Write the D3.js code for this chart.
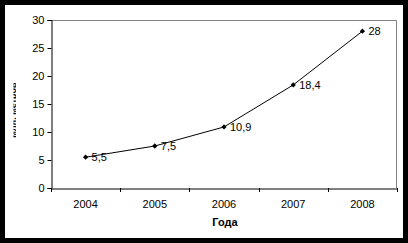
<!DOCTYPE html>
<html><head><meta charset="utf-8">
<script src="https://cdn.jsdelivr.net/npm/d3@7"></script>
<style>html,body{margin:0;padding:0;background:#000;}svg{display:block;}</style>
</head><body>
<script>
const years = ["2004","2005","2006","2007","2008"];
const values = [5.5, 7.5, 10.9, 18.4, 28];
const valueLabels = ["5,5","7,5","10,9","18,4","28"];
const yTicks = [0,5,10,15,20,25,30];
const xTitle = "Года";
const yTitle = "млн. метров";

const W = 408, H = 243;
const svg = d3.select("body").append("svg").attr("width", W).attr("height", H);
svg.append("rect").attr("width", W).attr("height", H).attr("fill", "#000");
svg.append("rect").attr("x", 5).attr("y", 5).attr("width", W - 10).attr("height", H - 10).attr("fill", "#fff");

const L = 51, R = 397, T = 20, B = 188;
const x = d3.scaleBand().domain(years).range([L, R]);
const y = d3.scaleLinear().domain([0, 30]).range([B, T]);
const font = "'Liberation Sans', Arial, sans-serif";

svg.append("path").attr("d", `M${L},${T + 0.5}H${R - 0.5}V${B}`).attr("fill", "none").attr("stroke", "#808080").attr("stroke-width", 1);

const ya = svg.append("g").attr("transform", `translate(${L + 0.5},0)`)
  .call(d3.axisLeft(y).tickValues(yTicks).tickSize(4).tickPadding(3).tickFormat(d3.format("d")));
ya.select(".domain").attr("stroke", "#000");
ya.selectAll("line").attr("stroke", "#000");
ya.selectAll("text").attr("font-family", font).attr("font-size", 11).attr("fill", "#000");

const xa = svg.append("g").attr("transform", `translate(0,${B + 0.5})`)
  .call(d3.axisBottom(x).tickSize(0).tickPadding(12));
xa.select(".domain").attr("stroke", "#000");
xa.selectAll("text").attr("font-family", font).attr("font-size", 11).attr("fill", "#000");
const bounds = years.map(d => x(d)).concat([x(years[years.length - 1]) + x.bandwidth()]);
svg.append("g").selectAll("line").data(bounds).join("line")
  .attr("x1", d => Math.round(d) + 0.5).attr("x2", d => Math.round(d) + 0.5)
  .attr("y1", B).attr("y2", B + 4).attr("stroke", "#000");

const cx = d => x(d) + x.bandwidth() / 2;
const line = d3.line().x((d, i) => cx(years[i])).y(d => y(d));
svg.append("path").datum(values).attr("d", line).attr("fill", "none").attr("stroke", "#000").attr("stroke-width", 1);

svg.append("g").selectAll("path").data(values).join("path")
  .attr("d", d3.symbol().type(d3.symbolSquare).size(14))
  .attr("transform", (d, i) => `translate(${cx(years[i])},${y(d)}) rotate(45)`)
  .attr("fill", "#000");

svg.append("g").selectAll("text").data(values).join("text")
  .attr("x", (d, i) => cx(years[i]) + 6).attr("y", d => y(d) + 4)
  .attr("font-family", font).attr("font-size", 11).attr("fill", "#000")
  .text((d, i) => valueLabels[i]);

svg.append("text").attr("x", (L + R) / 2 + 1).attr("y", 226).attr("text-anchor", "middle")
  .attr("font-family", font).attr("font-size", 11).attr("font-weight", "bold").text(xTitle);

svg.append("clipPath").attr("id", "yc").append("rect").attr("x", 13.5).attr("y", 0).attr("width", 2.5).attr("height", H);
svg.append("g").attr("clip-path", "url(#yc)").append("text")
  .attr("transform", "translate(16,110) rotate(-90)").attr("text-anchor", "middle")
  .attr("font-family", font).attr("font-size", 9).attr("font-weight", "bold").attr("fill", "#000").text(yTitle);
</script>
</body></html>
